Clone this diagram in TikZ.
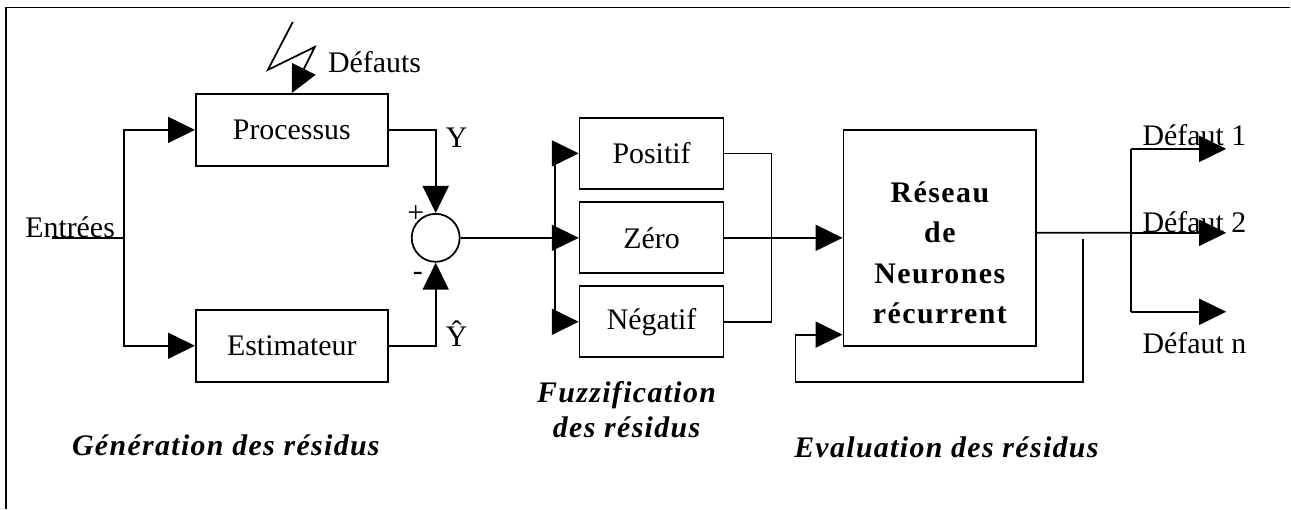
\documentclass[tikz,border=0pt]{standalone}
\usepackage{fontspec}
\setmainfont{Liberation Serif}
\usetikzlibrary{arrows.meta, positioning, calc}
\definecolor{inkline}{HTML}{000000}

\tikzset{
  blk/.style={draw=inkline, line width=1pt, minimum width=3.84cm, minimum height=1.44cm,
    inner sep=0pt, font=\fontsize{17}{20}\selectfont},
  fz/.style={blk, minimum width=2.88cm, minimum height=1.42cm},
  lbl/.style={inner sep=0pt, text=inkline, font=\fontsize{17}{20}\selectfont},
  ttl/.style={inner sep=0pt, align=center, text=inkline,
    font=\fontsize{17}{19.5}\selectfont\bfseries\itshape\addfontfeatures{LetterSpace=4.5}},
  wire/.style={inkline, line width=1pt},
  arr/.style={wire, -{Triangle[length=5.4mm, width=5.2mm]}},
}

\begin{document}
\begin{tikzpicture}[scale=1.0]
    \fill[white] (0,0) rectangle (25.82,10.18);
    \draw[wire] (0.12,0) -- (0.12,10.03) -- (25.82,10.03);

    % generation
    \node[blk] (proc) at (5.84,7.58) {Processus};
    \node[blk] (est) at (5.84,3.26) {Estimateur};
    \node[draw=inkline, circle, line width=1pt, minimum size=0.96cm, inner sep=0pt]
      (sum) at (8.72,5.42) {};
    \node[lbl, anchor=base west] (ent) at (0.50,5.42) {Entrées};
    \coordinate (in) at (1.04,5.42);
    \coordinate (split) at (2.48,5.42);
    \draw[wire] (in) -- (split);
    \draw[arr] (split) |- (proc.west);
    \draw[arr] (split) |- (est.west);
    \draw[arr] (5.86,9.74) -- (5.36,8.78) -- (6.30,9.24) -- (proc.north);
    \node[lbl, anchor=west] (def) at (6.56,8.94) {Défauts};
    \draw[arr] (proc.east) -| (sum.north);
    \draw[arr] (est.east) -| (sum.south);
    \node[lbl] (y) at (9.14,7.42) {Y};
    \node[lbl] (yhat) at (9.14,3.50) {\^{Y}};
    \node[lbl] (plus) at (8.32,5.90) {+};
    \node[lbl] (minus) at (8.36,4.64) {-};

    % fuzzification
    \node[fz] (pos) at (13.04,7.11) {Positif};
    \node[fz] (zer) at (13.04,5.42) {Zéro};
    \node[fz] (neg) at (13.04,3.74) {Négatif};
    \coordinate (bus) at (11.10,5.42);
    \coordinate (merge) at (15.44,5.42);
    \draw[wire] (sum.east) -- (bus);
    \draw[wire] (bus |- pos.west) -- (bus |- neg.west);
    \foreach \b in {pos,zer,neg}
      \draw[arr] (bus |- \b.west) -- (\b.west);
    \draw[wire] (pos.east) -| (merge |- neg.east) -- (neg.east);

    % evaluation
    \node[draw=inkline, line width=1pt, minimum width=3.86cm, minimum height=4.32cm]
      (rnn) at (18.81,5.42) {};
    \node[align=center, inner sep=0pt, text=inkline,
      font=\fontsize{17}{22.8}\selectfont\bfseries\addfontfeatures{LetterSpace=5}]
      (rnnlbl) at (18.81,5.12) {Réseau\\de\\Neurones\\récurrent};
    \draw[arr] (zer.east) -- (rnn.west);
    \coordinate (fb) at (21.68,5.40);
    \draw[arr] (fb) |- (15.92,2.54) |- ([yshift=0.24cm]rnn.south west);
    \coordinate (out) at (22.64,5.52);
    \draw[wire] ([yshift=0.1cm]rnn.east) -- (out);
    \draw[wire] (22.64,7.20) -- (22.64,3.94);
    \foreach \n/\y/\ly in {1/7.20/7.48, 2/5.52/5.74, n/3.94/3.32}{%
      \coordinate (o\n) at (24.54,\y);
      \draw[arr] (out |- o\n) -- (o\n);
      \node[lbl, anchor=west] (d\n) at (22.86,\ly) {Défaut \n};}

    \node[ttl] (gen) at (4.52,1.26) {Génération des résidus};
    \node[ttl] (fuz) at (12.54,1.98) {Fuzzification\\des résidus};
    \node[ttl] (eva) at (18.94,1.22) {Evaluation des résidus};
  \end{tikzpicture}
\end{document}
